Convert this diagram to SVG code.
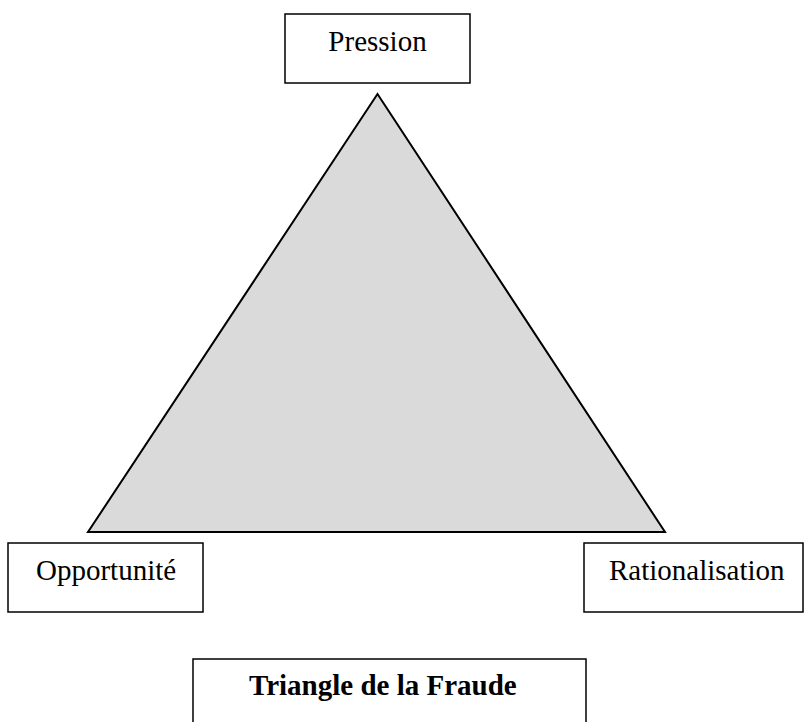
<svg xmlns="http://www.w3.org/2000/svg" width="805" height="722" viewBox="0 0 805 722">
  <style>
    .box { fill: #ffffff; stroke: #000000; stroke-width: 1.5; }
    .lbl { font-family: "Liberation Serif", "Times New Roman", serif; font-size: 29px; fill: #000000; }
    .title { font-weight: bold; }
  </style>
  <rect width="805" height="722" fill="#ffffff"/>
  <g id="connectors">
    <polygon points="377.5,94 88,532 665,532" fill="#dadada" stroke="#000000" stroke-width="2" stroke-linejoin="miter"/>
  </g>
  <g id="node-pression">
    <rect class="box" x="285" y="14" width="185" height="69"/>
    <text class="lbl" x="377.5" y="51" text-anchor="middle">Pression</text>
  </g>
  <g id="node-opportunite">
    <rect class="box" x="8" y="543" width="195" height="69"/>
    <text class="lbl" x="36" y="580">Opportunité</text>
  </g>
  <g id="node-rationalisation">
    <rect class="box" x="584" y="543" width="219" height="69"/>
    <text class="lbl" x="609" y="580">Rationalisation</text>
  </g>
  <g id="node-title">
    <rect class="box" x="193" y="659" width="393" height="80"/>
    <text class="lbl title" x="249" y="695">Triangle de la Fraude</text>
  </g>
</svg>
